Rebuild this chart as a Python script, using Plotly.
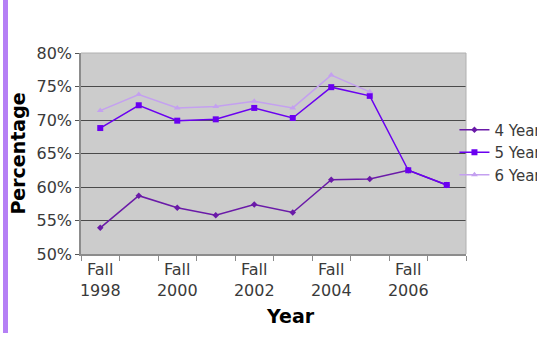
import plotly.graph_objects as go

categories = ["Fall 1998", "Fall 1999", "Fall 2000", "Fall 2001", "Fall 2002",
              "Fall 2003", "Fall 2004", "Fall 2005", "Fall 2006", "Fall 2007"]
four_year = [0.539, 0.587, 0.569, 0.558, 0.574, 0.562, 0.611, 0.612, 0.625, 0.603]
five_year = [0.688, 0.722, 0.699, 0.701, 0.718, 0.703, 0.749, 0.736, 0.625, 0.603]
six_year = [0.714, 0.738, 0.718, 0.720, 0.728, 0.718, 0.767, 0.742, None, None]
series_names = ["4 Year", "5 Year", "6 Year"]
tick_labels = ["Fall<br>1998", "Fall<br>2000", "Fall<br>2002", "Fall<br>2004", "Fall<br>2006"]

x = list(range(len(categories)))
FONT = "DejaVu Sans"

fig = go.Figure()
fig.add_trace(go.Scatter(x=x, y=four_year, name=series_names[0], mode="lines+markers",
                         line=dict(color="#6a1aa8", width=1.5),
                         marker=dict(symbol="diamond", size=5, color="#6a1aa8")))
fig.add_trace(go.Scatter(x=x, y=five_year, name=series_names[1], mode="lines+markers",
                         line=dict(color="#6a00f0", width=1.5),
                         marker=dict(symbol="square", size=6, color="#6a00f0")))
fig.add_trace(go.Scatter(x=x, y=six_year, name=series_names[2], mode="lines+markers",
                         line=dict(color="#c4a0f0", width=1.5),
                         marker=dict(symbol="triangle-up", size=6, color="#c4a0f0")))

fig.update_layout(
    width=537, height=338,
    margin=dict(l=81, r=71, t=53, b=84, autoexpand=False),
    paper_bgcolor="white",
    plot_bgcolor="#cccccc",
    font=dict(family=FONT, size=15, color="#3a3a3a"),
    showlegend=True,
    legend=dict(x=0.97, y=0.505, xanchor="left", yanchor="middle",
                font=dict(family=FONT, size=15, color="#3a3a3a"),
                bgcolor="rgba(0,0,0,0)", itemwidth=30, tracegroupgap=0),
    xaxis=dict(range=[-0.5, 9.5], tickmode="array",
               tickvals=[0, 2, 4, 6, 8], ticktext=tick_labels,
               ticks="", showgrid=False, zeroline=False,
               showline=True, linecolor="#8c8c8c", linewidth=1.5, mirror=False,
               tickfont=dict(family=FONT, size=16, color="#3a3a3a"),
               minor=dict(tick0=-0.5, dtick=1, ticks="outside", ticklen=5,
                          tickcolor="#8c8c8c", showgrid=False)),
    yaxis=dict(range=[0.5, 0.8], dtick=0.05, tickformat=".0%",
               ticks="outside", ticklen=4, tickcolor="#555555",
               showgrid=True, gridcolor="#4a4a4a", gridwidth=1,
               zeroline=False, showline=True, linecolor="#8c8c8c", linewidth=1.5,
               tickfont=dict(family=FONT, size=16, color="#3a3a3a")),
    shapes=[
        dict(type="rect", xref="paper", yref="paper", x0=-0.2026, x1=-0.1896,
             y0=-0.393, y1=1.27, fillcolor="#b580f5", line=dict(width=0), layer="below"),
        dict(type="line", xref="paper", yref="paper", x0=0, x1=1, y0=1, y1=1,
             line=dict(color="#b0b0b0", width=1)),
        dict(type="line", xref="paper", yref="paper", x0=1, x1=1, y0=0, y1=1,
             line=dict(color="#b0b0b0", width=1)),
    ],
    annotations=[
        dict(text="<b>Percentage</b>", xref="paper", yref="paper",
             x=-0.166, y=0.5, textangle=-90, showarrow=False,
             xanchor="center", yanchor="middle",
             font=dict(family=FONT, size=19, color="black")),
        dict(text="<b>Year</b>", xref="paper", yref="paper",
             x=0.545, y=-0.31, showarrow=False, xanchor="center", yanchor="middle",
             font=dict(family=FONT, size=19, color="black")),
    ],
)

fig.write_html("out.html")
